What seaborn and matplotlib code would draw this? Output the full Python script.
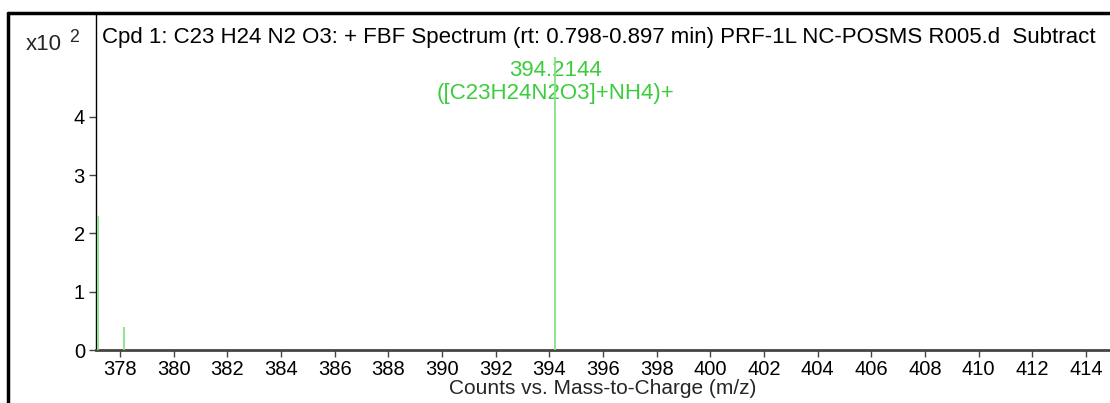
import matplotlib
matplotlib.use("Agg")
import matplotlib.pyplot as plt
from matplotlib.lines import Line2D
import seaborn as sns
import pandas as pd

# Data (counts in units of x10^2)
mz = [377.16, 378.16, 394.2144]
counts = [2.30, 0.40, 5.02]
peak_label_mz = 394.2144
peak_labels = ["394.2144", "([C23H24N2O3]+NH4)+"]
x_ticks = list(range(378, 415, 2))
y_ticks = [0, 1, 2, 3, 4]
title = "Cpd 1: C23 H24 N2 O3: + FBF Spectrum (rt: 0.798-0.897 min) PRF-1L NC-POSMS R005.d  Subtract"
x_label = "Counts vs. Mass-to-Charge (m/z)"

sns.set_style("ticks")
plt.rcParams["font.family"] = ["Liberation Sans", "DejaVu Sans"]
FS = 16
TFS = 14.5

df = pd.DataFrame({"mz": mz, "counts": counts})

fig = plt.figure(figsize=(11.1, 4.03), dpi=100)
W, H = 1110, 403
ax = fig.add_axes([96 / W, 1 - 350 / H, 1 - 96 / W, (350 - 13) / H])

ax.vlines(df["mz"], 0, df["counts"], color="#86e386", linewidth=1.3, zorder=5)

ax.set_xlim(377.1, 414.9)
ax.set_ylim(0, 5.78)
ax.set_xticks(x_ticks)
ax.set_yticks(y_ticks)
ax.tick_params(axis="both", labelsize=TFS, labelcolor="#000000", length=5, width=1,
               direction="out", color="#444444")
ax.tick_params(axis="x", pad=2)
ax.tick_params(axis="y", pad=3)
for s in ["top", "right"]:
    ax.spines[s].set_visible(False)
ax.spines["left"].set_color("#000000")
ax.spines["left"].set_linewidth(1.0)
ax.spines["bottom"].set_color("#444444")
ax.spines["bottom"].set_linewidth(2.0)

ax.set_xlabel(x_label, fontsize=15, labelpad=0)

fig.text(102 / W, 1 - 37 / H, title, fontsize=FS,
         ha="left", va="center", color="#000000")
fig.text(62 / W, 1 - 44 / H, "x10", fontsize=FS, ha="right", va="center")
fig.text(69 / W, 1 - 37 / H, "2", fontsize=FS * 0.8, ha="left", va="center")

ax.annotate(peak_labels[0], xy=(peak_label_mz, 0), xycoords="data",
            xytext=(555 / W, 1 - 71 / H), textcoords="figure fraction",
            ha="center", va="center", fontsize=FS, color="#3ccc3c")
ax.annotate(peak_labels[1], xy=(peak_label_mz, 0), xycoords="data",
            xytext=(555 / W, 1 - 94 / H), textcoords="figure fraction",
            ha="center", va="center", fontsize=FS, color="#3ccc3c")

# outer frame
fig.add_artist(Line2D([8 / W, 8 / W], [0, 1 - 13 / H], color="black", linewidth=2.5,
                      transform=fig.transFigure))
fig.add_artist(Line2D([8 / W, 1], [1 - 13 / H, 1 - 13 / H], color="black", linewidth=2.5,
                      transform=fig.transFigure))

fig.savefig("out.png", dpi=100)
